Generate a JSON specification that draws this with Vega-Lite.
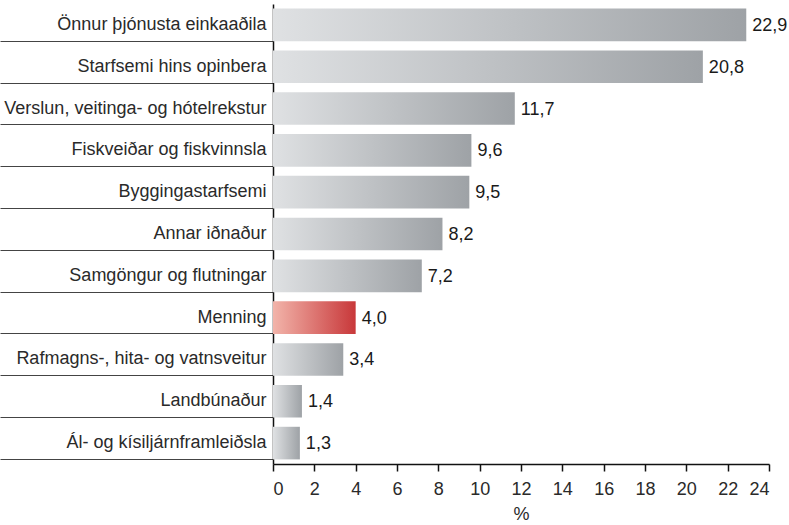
{
  "$schema": "https://vega.github.io/schema/vega-lite/v6.json",
  "width": 496,
  "height": 460,
  "autosize": {"type": "none"},
  "padding": {"left": 273, "top": 4, "right": 20, "bottom": 61},
  "background": "white",
  "config": {
    "view": {"stroke": null},
    "font": "Liberation Sans",
    "locale": {"number": {"decimal": ",", "thousands": ".", "grouping": [3], "currency": ["", " kr"]}}
  },
  "data": {
    "values": [
      {"grein": "Önnur þjónusta einkaaðila", "hlutfall": 22.9},
      {"grein": "Starfsemi hins opinbera", "hlutfall": 20.8},
      {"grein": "Verslun, veitinga- og hótelrekstur", "hlutfall": 11.7},
      {"grein": "Fiskveiðar og fiskvinnsla", "hlutfall": 9.6},
      {"grein": "Byggingastarfsemi", "hlutfall": 9.5},
      {"grein": "Annar iðnaður", "hlutfall": 8.2},
      {"grein": "Samgöngur og flutningar", "hlutfall": 7.2},
      {"grein": "Menning", "hlutfall": 4.0},
      {"grein": "Rafmagns-, hita- og vatnsveitur", "hlutfall": 3.4},
      {"grein": "Landbúnaður", "hlutfall": 1.4},
      {"grein": "Ál- og kísiljárnframleiðsla", "hlutfall": 1.3}
    ]
  },
  "encoding": {
    "y": {
      "field": "grein",
      "type": "nominal",
      "sort": null,
      "scale": {"paddingInner": 0.22, "paddingOuter": 0.11},
      "axis": {
        "title": null,
        "bandPosition": 1,
        "tickSize": 273,
        "tickColor": "#444444",
        "tickWidth": 1,
        "labelPadding": -266,
        "labelLimit": 300,
        "labelFontSize": 18,
        "labelColor": "#2a2a2a",
        "labelFont": "Liberation Sans",
        "domainColor": "#111111",
        "domainWidth": 1.5
      }
    },
    "x": {
      "field": "hlutfall",
      "type": "quantitative",
      "scale": {"domain": [0, 24], "nice": false},
      "axis": {
        "title": "%",
        "titleFontSize": 18,
        "titleFontWeight": "normal",
        "titleColor": "#2a2a2a",
        "titleFont": "Liberation Sans",
        "titlePadding": 7,
        "values": [0, 2, 4, 6, 8, 10, 12, 14, 16, 18, 20, 22, 24],
        "format": "d",
        "grid": false,
        "tickSize": 7,
        "tickColor": "#111111",
        "tickWidth": 1.5,
        "labelFontSize": 18,
        "labelColor": "#2a2a2a",
        "labelFont": "Liberation Sans",
        "labelPadding": 9,
        "domainColor": "#111111",
        "domainWidth": 1.5
      }
    }
  },
  "layer": [
    {
      "mark": {"type": "bar"},
      "encoding": {
        "fill": {
          "condition": {
            "test": "datum.grein === 'Menning'",
            "value": {"gradient": "linear", "x1": 0, "y1": 0, "x2": 1, "y2": 0,
              "stops": [{"offset": 0, "color": "#f2b4aa"}, {"offset": 1, "color": "#c8383a"}]}
          },
          "value": {"gradient": "linear", "x1": 0, "y1": 0, "x2": 1, "y2": 0,
            "stops": [{"offset": 0, "color": "#dfe1e3"}, {"offset": 1, "color": "#9ea2a6"}]}
        }
      }
    },
    {
      "mark": {"type": "text", "align": "left", "baseline": "middle", "dx": 6, "dy": 1, "fontSize": 18, "font": "Liberation Sans", "color": "#1a1a1a"},
      "encoding": {
        "text": {"field": "hlutfall", "type": "quantitative", "format": ".1f"}
      }
    }
  ]
}
